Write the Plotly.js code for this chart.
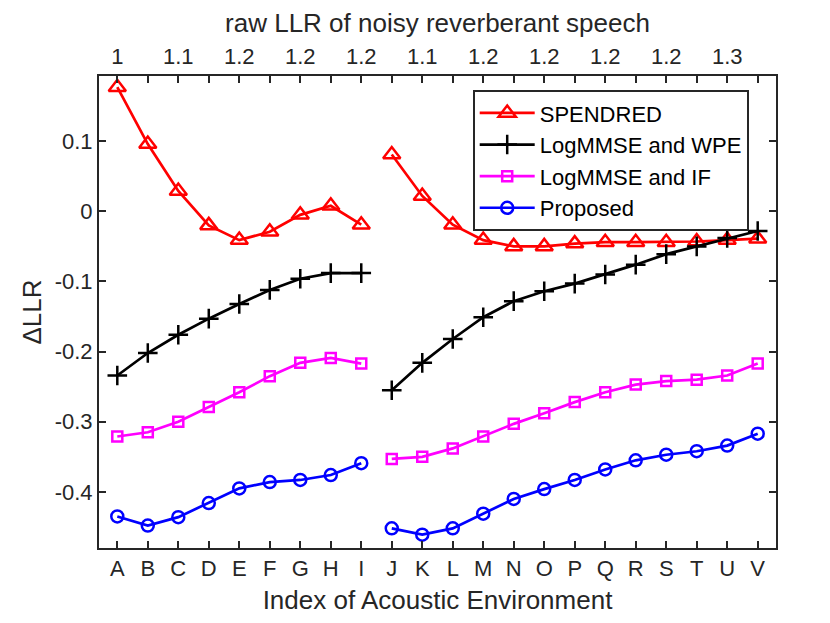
<!DOCTYPE html>
<html>
<head>
<meta charset="utf-8">
<script src="https://cdn.plot.ly/plotly-3.0.1.min.js"></script>
<style>
    html, body { margin: 0; padding: 0; background: #fff; }
    #plotly-chart { width: 830px; height: 623px; }
</style>
</head>
<body>
<div id="plotly-chart"></div>
<script>
const environments = ['A', 'B', 'C', 'D', 'E', 'F', 'G', 'H', 'I', 'J', 'K',
                      'L', 'M', 'N', 'O', 'P', 'Q', 'R', 'S', 'T', 'U', 'V'];
// the curves are broken between I and J
const breakAfter = 'I';

// raw LLR labels on the top axis, one for every second environment
const rawLlrCategories = ['A', 'C', 'E', 'G', 'I', 'K', 'M', 'O', 'Q', 'S', 'U'];
const rawLlrLabels = ['1', '1.1', '1.2', '1.2', '1.2', '1.1', '1.2', '1.2', '1.2', '1.2', '1.3'];

const yTickValues = [-0.4, -0.3, -0.2, -0.1, 0, 0.1];
const yTickLabels = ['-0.4', '-0.3', '-0.2', '-0.1', '0', '0.1'];

const spendred = [0.177, 0.096, 0.029, -0.020, -0.041, -0.029, -0.005, 0.008, -0.019,
                  0.081, 0.022, -0.019, -0.041, -0.050, -0.050, -0.046, -0.044, -0.044, -0.044, -0.043, -0.041, -0.039];
const logmmseWpe = [-0.234, -0.202, -0.176, -0.153, -0.132, -0.112, -0.096, -0.088, -0.088,
                    -0.255, -0.216, -0.182, -0.151, -0.128, -0.114, -0.103, -0.090, -0.076, -0.061, -0.050, -0.038, -0.028];
const logmmseIf = [-0.321, -0.315, -0.300, -0.279, -0.258, -0.235, -0.216, -0.209, -0.217,
                   -0.353, -0.350, -0.338, -0.321, -0.303, -0.288, -0.272, -0.258, -0.247, -0.242, -0.240, -0.234, -0.217];
const proposed = [-0.435, -0.448, -0.436, -0.416, -0.395, -0.386, -0.383, -0.376, -0.359,
                  -0.452, -0.461, -0.452, -0.431, -0.410, -0.396, -0.383, -0.368, -0.355, -0.347, -0.342, -0.334, -0.317];

const axisColor = '#262626';
const fontFamily = '"Liberation Sans", Arial, Helvetica, sans-serif';

function splitSeries(values) {
    // insert a null after the break so the two groups are not joined
    const x = [];
    const y = [];
    const breakIndex = environments.indexOf(breakAfter);
    values.forEach((v, i) => {
        x.push(i);
        y.push(v);
        if (i === breakIndex) {
            x.push(i + 0.5);
            y.push(null);
        }
    });
    return {x, y};
}

function makeTrace(values, name, color, symbol, size) {
    const s = splitSeries(values);
    return {
        x: s.x,
        y: s.y,
        type: 'scatter',
        mode: 'lines+markers',
        name: name,
        connectgaps: false,
        line: { color: color, width: 2.7 },
        marker: { symbol: symbol, size: size, color: color, line: { color: color, width: 2.5 } },
    };
}

const data = [
    makeTrace(spendred, 'SPENDRED', '#ff0000', 'triangle-up-open', 15),
    makeTrace(logmmseWpe, 'LogMMSE and WPE', '#000000', 'cross-thin-open', 14),
    makeTrace(logmmseIf, 'LogMMSE and IF', '#ff00ff', 'square-open', 10),
    makeTrace(proposed, 'Proposed', '#0000ff', 'circle-open', 12),
];

// dummy trace so the top axis is drawn
data.push({
    x: [0],
    y: [null],
    xaxis: 'x2',
    type: 'scatter',
    mode: 'markers',
    showlegend: false,
    hoverinfo: 'skip',
});

const xRange = [-0.6, 21.6];

const layout = {
    width: 830,
    height: 623,
    paper_bgcolor: '#ffffff',
    plot_bgcolor: '#ffffff',
    margin: {t: 76, r: 54, b: 75, l: 99},
    font: { family: fontFamily, color: axisColor, size: 22 },
    showlegend: true,

    xaxis: {
        range: xRange,
        tickvals: environments.map((e, i) => i),
        ticktext: environments,
        ticks: 'inside',
        ticklen: 7,
        tickwidth: 2,
        tickcolor: axisColor,
        showline: true,
        linecolor: axisColor,
        linewidth: 2,
        mirror: 'ticks',
        showgrid: false,
        zeroline: false,
        tickfont: { size: 22, color: axisColor },
        title: { text: 'Index of Acoustic Environment', font: { size: 26, color: axisColor }, standoff: 10 },
    },
    xaxis2: {
        overlaying: 'x',
        side: 'top',
        range: xRange,
        tickvals: rawLlrCategories.map(c => environments.indexOf(c)),
        ticktext: rawLlrLabels,
        ticks: '',
        ticklabelstandoff: 7,
        showline: false,
        showgrid: false,
        zeroline: false,
        tickfont: { size: 22, color: axisColor },
        title: { text: 'raw LLR of noisy reverberant speech', font: { size: 26, color: axisColor }, standoff: 3 },
    },
    yaxis: {
        range: [-0.48, 0.193],
        tickvals: yTickValues,
        ticktext: yTickLabels,
        ticks: 'inside',
        ticklen: 7,
        tickwidth: 2,
        tickcolor: axisColor,
        showline: true,
        linecolor: axisColor,
        linewidth: 2,
        mirror: 'ticks',
        showgrid: false,
        zeroline: false,
        tickfont: { size: 22, color: axisColor },
        title: { text: 'ΔLLR', font: { size: 26, color: axisColor }, standoff: 6 },
    },
    legend: {
        x: 0.552,
        y: 0.97,
        xanchor: 'left',
        yanchor: 'top',
        bgcolor: '#ffffff',
        bordercolor: axisColor,
        borderwidth: 2,
        font: { size: 22, color: '#000000' },
        itemwidth: 55,
        tracegroupgap: 0,
    },
};

const config = {
    responsive: false,
    displayModeBar: false,
    staticPlot: true,
};

Plotly.newPlot('plotly-chart', data, layout, config);
</script>
</body>
</html>
